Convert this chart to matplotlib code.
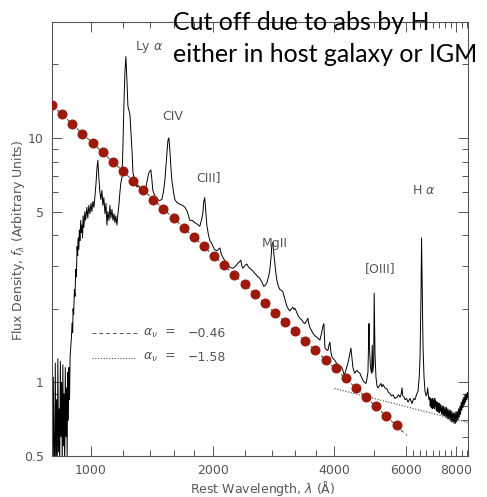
import matplotlib
matplotlib.use('Agg')
import matplotlib.pyplot as plt
from matplotlib.ticker import FixedLocator, NullFormatter

# composite quasar spectrum (wavelength in A, flux arbitrary)
wave = [801, 804, 807, 810, 813, 816, 819, 822, 825, 828, 831, 834, 837, 840, 843,
        846, 849, 852, 855, 858, 861, 864, 867, 870, 873, 876, 879, 882, 885, 888,
        890, 895, 898, 901, 903, 906, 910, 913, 917, 920, 924, 927, 929, 933, 936,
        939, 943, 946, 950, 953, 956, 960, 966, 970, 977, 982, 988, 994, 1000, 1005,
        1011, 1017, 1023, 1029, 1035, 1040, 1045, 1052, 1058, 1064, 1070, 1076, 1083,
        1089, 1095, 1101, 1108, 1114, 1120, 1127, 1133, 1140, 1146, 1152, 1159, 1166,
        1172, 1179, 1186, 1193, 1199, 1206, 1213, 1220, 1227, 1234, 1241, 1248, 1256,
        1263, 1270, 1284, 1299, 1310, 1321, 1333, 1344, 1356, 1367, 1380, 1390, 1406,
        1414, 1422, 1438, 1455, 1480, 1497, 1510, 1523, 1535, 1541, 1550, 1558, 1567,
        1576, 1585, 1600, 1612, 1630, 1659, 1685, 1707, 1730, 1756, 1780, 1806, 1827,
        1858, 1875, 1890, 1900, 1911, 1922, 1934, 1950, 1967, 1985, 2001, 2020, 2047,
        2065, 2082, 2100, 2118, 2150, 2179, 2210, 2242, 2275, 2306, 2330, 2346, 2360,
        2373, 2400, 2428, 2450, 2469, 2500, 2540, 2580, 2613, 2645, 2674, 2700, 2721,
        2750, 2768, 2790, 2800, 2816, 2830, 2848, 2865, 2881, 2905, 2931, 2955, 2981,
        3015, 3050, 3075, 3102, 3130, 3156, 3175, 3192, 3220, 3248, 3285, 3322, 3350,
        3379, 3410, 3438, 3455, 3477, 3510, 3537, 3580, 3619, 3650, 3681, 3720, 3745,
        3766, 3778, 3788, 3820, 3853, 3875, 3897, 3920, 3942, 3975, 4010, 4045, 4079,
        4100, 4126, 4160, 4197, 4220, 4245, 4280, 4319, 4360, 4393, 4420, 4443, 4470,
        4494, 4520, 4546, 4585, 4624, 4665, 4704, 4745, 4785, 4810, 4840, 4855, 4868,
        4880, 4910, 4940, 4960, 4975, 5000, 5015, 5038, 5066, 5095, 5124, 5170, 5212,
        5240, 5272, 5330, 5394, 5440, 5487, 5530, 5582, 5640, 5711, 5760, 5810, 5850,
        5876, 5900, 5950, 5977, 6030, 6080, 6150, 6220, 6280, 6327, 6380, 6436, 6480,
        6510, 6530, 6547, 6567, 6600, 6622, 6660, 6697, 6740, 6774, 6800, 6830, 6851,
        6880, 6900, 6920, 6940, 6960, 6980, 7000, 7020, 7040, 7060, 7080, 7100, 7120,
        7140, 7160, 7180, 7200, 7220, 7240, 7260, 7280, 7300, 7330, 7360, 7390, 7420,
        7450, 7480, 7510, 7540, 7570, 7600, 7630, 7660, 7690, 7720, 7750, 7780, 7810,
        7840, 7870, 7900, 7930, 7960, 7990, 8020, 8050, 8080, 8110, 8140, 8170, 8200,
        8230, 8260, 8290, 8320, 8350, 8380, 8410, 8440, 8470, 8500, 8530, 8555]
flux = [0.62, 0.42, 1.05, 0.50, 0.44, 1.20, 0.48, 0.85, 0.43, 1.25, 0.52, 0.78, 0.45, 1.22, 0.60,
        1.00, 0.46, 1.18, 0.55, 0.90, 0.44, 1.15, 0.60, 0.95, 0.50, 1.10, 0.70, 1.15, 0.85, 1.28,
        1.35, 1.55, 1.75, 1.60, 2.00, 1.90, 2.40, 2.25, 2.90, 2.70, 3.60, 3.30, 3.90, 3.50, 4.20,
        3.80, 4.60, 4.10, 4.40, 3.90, 4.80, 4.30, 5.00, 4.60, 5.20, 4.70, 5.30, 4.90, 5.40, 5.00,
        5.50, 5.20, 5.80, 6.50, 7.60, 8.10, 7.00, 6.00, 5.60, 6.10, 5.30, 5.70, 4.90,
        5.40, 4.40, 5.00, 4.60, 5.30, 4.70, 5.10, 4.60, 4.90, 4.50, 4.80, 4.40, 4.90,
        5.30, 6.00, 6.60, 6.90, 9.00, 13.5, 18.5, 21.5, 17.3, 13.5, 13.0, 12.5, 10.5,
        8.90, 7.20, 6.70, 6.30, 6.40, 6.20, 6.30, 6.10, 6.20, 6.30, 6.80, 7.20, 7.40,
        6.80, 6.10, 5.80, 5.60, 5.55, 5.60, 6.00, 6.70, 8.00, 8.70, 9.80, 10.0, 8.90,
        7.60, 6.70, 6.00, 5.60, 5.45, 5.35, 5.30, 5.20, 5.00, 4.60, 4.60, 4.50, 4.45,
        4.35, 4.60, 4.90, 5.50, 5.70, 5.00, 4.40, 4.05, 3.80, 3.72, 3.62, 3.50, 3.45,
        3.50, 3.55, 3.35, 3.25, 3.12, 3.02, 2.95, 2.93, 2.98, 3.07, 3.12, 3.16, 3.00,
        2.93, 3.00, 3.05, 2.97, 2.93, 2.88, 2.80, 2.72, 2.67, 2.58, 2.47, 2.50, 2.55,
        2.72, 2.88, 3.30, 3.65, 3.74, 3.40, 3.07, 2.80, 2.62, 2.48, 2.40, 2.38, 2.35,
        2.20, 2.05, 2.00, 1.96, 2.00, 2.03, 1.99, 2.01, 1.95, 1.88, 1.83, 1.80, 1.76,
        1.74, 1.78, 1.83, 1.74, 1.68, 1.63, 1.59, 1.55, 1.53, 1.51, 1.49, 1.60, 1.70,
        1.74, 1.55, 1.39, 1.36, 1.35, 1.42, 1.46, 1.33, 1.27, 1.25, 1.23, 1.20, 1.17,
        1.15, 1.14, 1.16, 1.12, 1.08, 1.09, 1.14, 1.20, 1.30, 1.38, 1.25, 1.15, 1.11,
        1.09, 1.11, 1.12, 1.10, 1.09, 1.05, 1.02, 1.00, 0.99, 1.03, 1.10, 1.40, 1.74,
        1.40, 1.15, 1.09, 1.42, 1.10, 1.20, 2.32, 1.30, 1.05, 0.97, 0.95, 0.97, 0.99,
        0.96, 0.98, 0.95, 0.94, 0.91, 0.90, 0.88, 0.89, 0.86, 0.87, 0.89, 0.87, 0.90,
        0.95, 0.88, 0.87, 0.85, 0.86, 0.83, 0.86, 0.82, 0.86, 0.85, 0.89, 0.92, 1.05,
        1.25, 1.70, 2.30, 3.90, 2.20, 1.40, 1.05, 0.92, 0.88, 0.90, 0.95, 0.88, 0.85,
        0.87, 0.80, 0.86, 0.79, 0.85, 0.78, 0.86, 0.79, 0.84, 0.78, 0.86, 0.80, 0.84,
        0.77, 0.83, 0.76, 0.83, 0.76, 0.82, 0.75, 0.82, 0.76, 0.81, 0.74, 0.80, 0.73,
        0.80, 0.73, 0.79, 0.72, 0.79, 0.71, 0.78, 0.71, 0.77, 0.70, 0.77, 0.69, 0.76,
        0.69, 0.75, 0.68, 0.75, 0.68, 0.76, 0.69, 0.76, 0.70, 0.78, 0.72, 0.80, 0.74,
        0.83, 0.77, 0.85, 0.79, 0.87, 0.81, 0.89, 0.83, 0.90, 0.85, 0.91, 0.87]

# red markers along the alpha_nu = -0.46 power law
dot_wave = [801, 849, 899, 952, 1009, 1069, 1132, 1200, 1271, 1346, 1426, 1511,
            1601, 1696, 1797, 1903, 2016, 2136, 2263, 2397, 2540, 2690, 2850, 3019,
            3199, 3389, 3590, 3803, 4029, 4268, 4522, 4790, 5075, 5376, 5695]
dot_flux = [13.6, 12.5, 11.4, 10.4, 9.54, 8.73, 7.99, 7.31, 6.69, 6.12, 5.60, 5.13,
            4.69, 4.29, 3.93, 3.60, 3.29, 3.01, 2.76, 2.52, 2.31, 2.11, 1.93, 1.77,
            1.62, 1.48, 1.36, 1.24, 1.14, 1.04, 0.952, 0.871, 0.797, 0.730, 0.668]

# power-law continuum fits (end points)
dash_wave = [801, 6040]
dash_flux = [13.6, 0.607]
dotted_wave = [4000, 8555]
dotted_flux = [0.945, 0.686]

line_names = ['Ly $\\alpha$', 'CIV', 'CIII]', 'MgII', '[OIII]', 'H $\\alpha$']
line_wave = [1284, 1497, 1816, 2644, 4750, 6220]
line_flux = [23.6, 12.2, 6.86, 3.71, 2.93, 6.12]

grey = '#555555'

fig = plt.figure(figsize=(4.87, 4.97), dpi=100)
ax = fig.add_axes([0.1068, 0.0825, 0.8542, 0.8732])

ax.plot(wave, flux, color='black', lw=0.7, zorder=2)
ax.plot(dash_wave, dash_flux, color='#444444', lw=0.7, ls=(0, (4, 3)), zorder=3)
ax.plot(dotted_wave, dotted_flux, color='#444444', lw=0.8, ls=(0, (1, 1.5)), zorder=3)
ax.plot(dot_wave, dot_flux, 'o', color='#9b1a0b', ms=6.2, mec='#9b1a0b', zorder=4)

ax.set_xscale('log')
ax.set_yscale('log')
ax.set_xlim(801, 8555)
ax.set_ylim(0.5, 29.8)

ax.xaxis.set_major_locator(FixedLocator([1000, 2000, 4000, 6000, 8000]))
ax.xaxis.set_minor_locator(FixedLocator([1200, 1400, 1600, 1800, 2400, 2800, 3200, 3600,
                                         5000, 6250, 6500, 6750, 7000, 7250, 7500, 7750,
                                         8250, 8500]))
ax.set_xticklabels(['1000', '2000', '4000', '6000', '8000'])
ax.xaxis.set_minor_formatter(NullFormatter())

ax.yaxis.set_major_locator(FixedLocator([0.5, 1, 5, 10]))
ax.yaxis.set_minor_locator(FixedLocator([0.6, 0.7, 0.8, 0.9, 2, 3, 4, 6, 7, 8, 9, 20]))
ax.set_yticklabels(['0.5', '1', '5', '10'])
ax.yaxis.set_minor_formatter(NullFormatter())

ax.tick_params(which='both', direction='in', top=True, right=True, color=grey,
               labelcolor=grey, labelsize=9, width=0.7)
ax.tick_params(which='major', length=7, pad=6)
ax.tick_params(which='minor', length=4)
for s in ax.spines.values():
    s.set_color(grey)
    s.set_linewidth(0.8)

# axis titles placed in figure coordinates so they stay inside the canvas
fig.text(0.540, 0.018, 'Rest Wavelength, $\\lambda$ ($\\mathrm{\\AA}$)', color=grey,
         fontsize=9, ha='center', va='center')
fig.text(0.039, 0.517, 'Flux Density, $f_\\lambda$ (Arbitrary Units)', color=grey,
         fontsize=9, ha='center', va='center', rotation=90)

for name, lw_, lf in zip(line_names, line_wave, line_flux):
    ax.text(lw_, lf, name, color=grey, fontsize=9, ha='left', va='center')

# legend for the two slopes
ax.plot([0.096, 0.207], [0.283, 0.283], transform=ax.transAxes, color='#555555',
        lw=0.7, ls=(0, (4, 3)))
ax.plot([0.096, 0.200], [0.226, 0.226], transform=ax.transAxes, color='#555555',
        lw=0.8, ls=(0, (1, 1.5)))
ax.text(0.219, 0.283, '$\\alpha_\\nu$  =', transform=ax.transAxes, color=grey,
        fontsize=9, va='center')
ax.text(0.325, 0.283, '\u22120.46', transform=ax.transAxes, color=grey,
        fontsize=9, va='center')
ax.text(0.219, 0.226, '$\\alpha_\\nu$  =', transform=ax.transAxes, color=grey,
        fontsize=9, va='center')
ax.text(0.325, 0.226, '\u22121.58', transform=ax.transAxes, color=grey,
        fontsize=9, va='center')

fig.text(0.355, 0.9396, 'Cut off due to abs by H', fontsize=18, family='Lato',
         color='black', va='baseline', zorder=10)
fig.text(0.355, 0.8753, 'either in host galaxy or IGM', fontsize=18, family='Lato',
         color='black', va='baseline', zorder=10)

fig.savefig('out.png', dpi=100)
